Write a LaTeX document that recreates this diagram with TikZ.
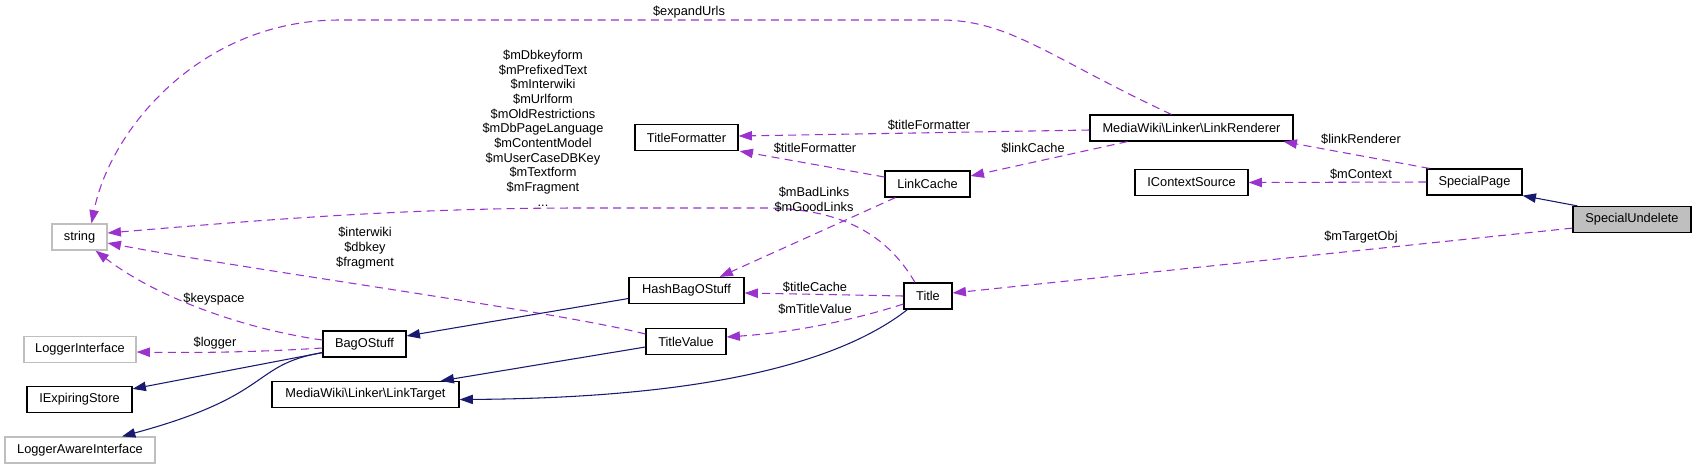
\documentclass[tikz,border=0pt]{standalone}
\usepackage{fontspec}
\setmainfont{Liberation Sans}
\usetikzlibrary{arrows.meta,calc}
\definecolor{edgepurple}{HTML}{9A32CD}
\definecolor{inhnavy}{HTML}{191970}
\definecolor{grayborder}{HTML}{BFBFBF}
\begin{document}
\begin{tikzpicture}[x=0.75pt,y=-0.75pt,
  box/.style={draw=black, line width=0.9pt, fill=white, inner sep=0pt,
    minimum height=19.5pt, font=\fontsize{9.6}{11}\selectfont},
  gbox/.style={box, draw=grayborder},
  wd/.style={minimum width=#1*0.75pt},
  lbl/.style={inner sep=0pt, font=\fontsize{9.6}{11}\selectfont, align=center},
  uses/.style={draw=edgepurple, line width=0.8pt, dash pattern=on 6pt off 4pt,
    -{Triangle[length=10pt,width=7pt]}},
  inh/.style={draw=inhnavy, line width=0.8pt, -{Triangle[length=10pt,width=7pt]}}
]
\useasboundingbox (0,0) rectangle (1696,469);

% nodes
\node[gbox,wd=55]  (str) at (79.5,237) {string};
\node[gbox,wd=112] (li)  at (80,349.5) {LoggerInterface};
\node[box,wd=83]   (bag) at (364.5,344) {BagOStuff};
\node[box,wd=105]  (ies) at (79.5,399.5) {IExpiringStore};
\node[gbox,wd=150] (lai) at (80,450) {LoggerAwareInterface};
\node[box,wd=187]  (lt)  at (365.5,394.5) {MediaWiki\textbackslash Linker\textbackslash LinkTarget};
\node[box,wd=103]  (tf)  at (686.5,137.5) {TitleFormatter};
\node[box,wd=203]  (lr)  at (1191.5,128) {MediaWiki\textbackslash Linker\textbackslash LinkRenderer};
\node[box,wd=85]   (lc)  at (927.5,184) {LinkCache};
\node[box,wd=115]  (hb)  at (686.5,290.5) {HashBagOStuff};
\node[box,wd=80]   (tv)  at (686,341.5) {TitleValue};
\node[box,wd=48]   (title) at (928,296) {Title};
\node[box,wd=113]  (ics) at (1191.5,182.5) {IContextSource};
\node[box,wd=95]   (sp)  at (1474.5,182) {SpecialPage};
\node[box,wd=118,fill=grayborder] (su) at (1632,219.5) {SpecialUndelete};

% edges
\draw[inh] ($(su.north west)+(5,0)$) -- (sp.south east);
\draw[uses] ($(su.south west)+(0,-5)$) -- ($(title.east)+(0,-3)$);
\draw[uses] ($(sp.north west)+(3,0)$) -- ($(lr.south east)+(-10,0)$);
\draw[uses] (sp.west) -- (ics.east);
\draw[uses] ($(lr.west)+(0,2)$) -- ($(tf.east)+(0,-1.5)$);
\draw[uses] ($(lr.south west)+(38,0)$) -- ($(lc.east)+(0,-8)$);
\draw[uses] ($(lr.north west)+(82,0)$) .. controls (1050,58) and (1010,20) .. (940,20)
  -- (340,20) .. controls (200,20) and (110,130) .. ($(str.north)+(12,0)$);
\draw[uses] ($(lc.west)+(0,-7)$) -- ($(tf.south east)+(1,0)$);
\draw[uses] ($(lc.south west)+(11,0)$) -- ($(hb.north east)+(-25,0)$);
\draw[uses] ($(title.north)+(-13,0)$) .. controls (890,240) and (850,210) .. (770,208)
  -- (580,208) .. controls (400,208) and (250,221) .. ($(str.east)+(0,-4)$);
\draw[uses] (title.west) -- ($(hb.east)+(0,2.5)$);
\draw[uses] ($(title.west)+(0,8)$) .. controls (860,318) and (800,332) .. ($(tv.east)+(0,-4.5)$);
\draw[inh] ($(title.south west)+(4,0)$) .. controls (830,370) and (680,398) .. ($(lt.east)+(0,5)$);
\draw[inh] ($(tv.west)+(0,5.5)$) -- ($(lt.north east)+(-19,0)$);
\draw[uses] ($(tv.west)+(0,-7.5)$) .. controls (560,312) and (250,270) .. ($(str.east)+(0,6)$);
\draw[inh] ($(hb.west)+(0,8)$) -- ($(bag.east)+(0,-8)$);
\draw[uses] ($(bag.west)+(0,-4)$) .. controls (250,330) and (160,300) .. ($(str.south)+(16,0)$);
\draw[uses] ($(bag.west)+(0,4)$) .. controls (260,352) and (200,353) .. ($(li.east)+(0,2.5)$);
\draw[inh] ($(bag.south west)+(0,-5)$) -- ($(ies.north east)+(0,3)$);
\draw[inh] ($(bag.south west)+(0,-5)$) .. controls (250,365) and (275,395) .. ($(lai.north)+(42,0)$);

% labels
\node[lbl] (l1) at (689,12) {\$expandUrls};
\node[lbl] (l2) at (543,128) {\$mDbkeyform\\\$mPrefixedText\\\$mInterwiki\\\$mUrlform\\\$mOldRestrictions\\\$mDbPageLanguage\\\$mContentModel\\\$mUserCaseDBKey\\\$mTextform\\\$mFragment\\...};
\node[lbl] (l3) at (929,125) {\$titleFormatter};
\node[lbl] (l4) at (815,148) {\$titleFormatter};
\node[lbl] (l5) at (1033,148) {\$linkCache};
\node[lbl] (l6) at (814,200) {\$mBadLinks\\\$mGoodLinks};
\node[lbl] (l7) at (1361,139) {\$linkRenderer};
\node[lbl] (l8) at (1361,174) {\$mContext};
\node[lbl] (l9) at (1361,237) {\$mTargetObj};
\node[lbl] (l10) at (815,287) {\$titleCache};
\node[lbl] (l11) at (815,309) {\$mTitleValue};
\node[lbl] (l12) at (365,248) {\$interwiki\\\$dbkey\\\$fragment};
\node[lbl] (l13) at (214,299) {\$keyspace};
\node[lbl] (l14) at (215,343) {\$logger};
\end{tikzpicture}
\end{document}
